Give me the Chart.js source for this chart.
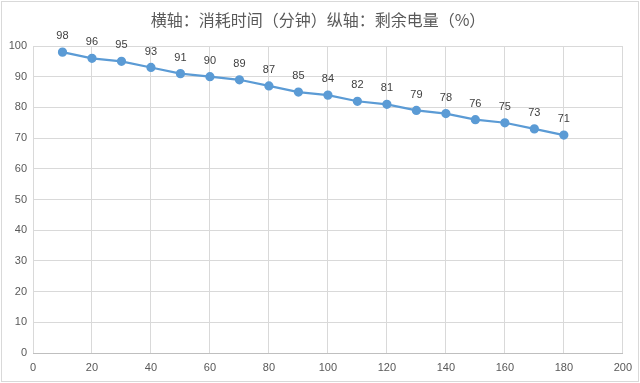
<!DOCTYPE html>
<html><head><meta charset="utf-8">
<script src="https://cdn.jsdelivr.net/npm/chart.js@4"></script>
<style>html,body{margin:0;padding:0;background:#fff}#w{width:640px;height:383px}</style>
</head><body><div id="w"><canvas id="c"></canvas></div>
<script>
const titleText = '横轴：消耗时间（分钟）纵轴：剩余电量（%）';
const minutes = [10,20,30,40,50,60,70,80,90,100,110,120,130,140,150,160,170,180];
const battery = [98,96,95,93,91,90,89,87,85,84,82,81,79,78,76,75,73,71];
const xTicks = [0,20,40,60,80,100,120,140,160,180,200];
const yTicks = [0,10,20,30,40,50,60,70,80,90,100];

const frame = {
  id:'frame',
  beforeDraw(ch){
    const c=ch.ctx; c.save();
    c.fillStyle='#fff'; c.fillRect(0,0,ch.width,ch.height);
    c.strokeStyle='#d9d9d9'; c.lineWidth=1;
    c.strokeRect(1.5,1.5,ch.width-3,ch.height-3);
    c.fillStyle='#595959'; c.font='16px "Noto Sans CJK SC"';
    c.textAlign='center'; c.textBaseline='middle';
    c.fillText(titleText, 318, 20);
    c.restore();
  },
  afterDatasetsDraw(ch){
    const c=ch.ctx; c.save();
    c.fillStyle='#404040'; c.font='11px "Liberation Sans"';
    c.textAlign='center'; c.textBaseline='middle';
    ch.getDatasetMeta(0).data.forEach((p,i)=>{ c.fillText(String(battery[i]), p.x, p.y-16); });
    c.restore();
  }
};

new Chart(document.getElementById('c'), {
  type:'line',
  data:{ datasets:[{ data: minutes.map((m,i)=>({x:m,y:battery[i]})),
    borderColor:'#5b9bd5', backgroundColor:'#5b9bd5', borderWidth:2.25,
    pointRadius:3.5, pointBackgroundColor:'#5b9bd5', pointBorderColor:'#5b9bd5', tension:0 }]},
  options:{
    responsive:true, maintainAspectRatio:false, animation:false,
    layout:{padding:{top:46,right:15,left:0,bottom:0}},
    plugins:{legend:{display:false}, title:{display:false}, tooltip:{enabled:false}},
    scales:{
      x:{ type:'linear', min:0, max:200,
        afterBuildTicks(s){ s.ticks = xTicks.map(v=>({value:v})); },
        afterFit(s){ s.height = 30; },
        grid:{color:'#d9d9d9', drawTicks:false},
        border:{color:'#bfbfbf'},
        ticks:{color:'#595959', font:{family:'Liberation Sans', size:11}, padding:8, maxRotation:0}
      },
      y:{ min:0, max:100,
        afterBuildTicks(s){ s.ticks = yTicks.map(v=>({value:v})); },
        afterFit(s){ s.width = 33; },
        grid:{color:'#d9d9d9', drawTicks:false},
        border:{display:false},
        ticks:{color:'#595959', font:{family:'Liberation Sans', size:11}, padding:6}
      }
    }
  },
  plugins:[frame]
});
</script></body></html>
